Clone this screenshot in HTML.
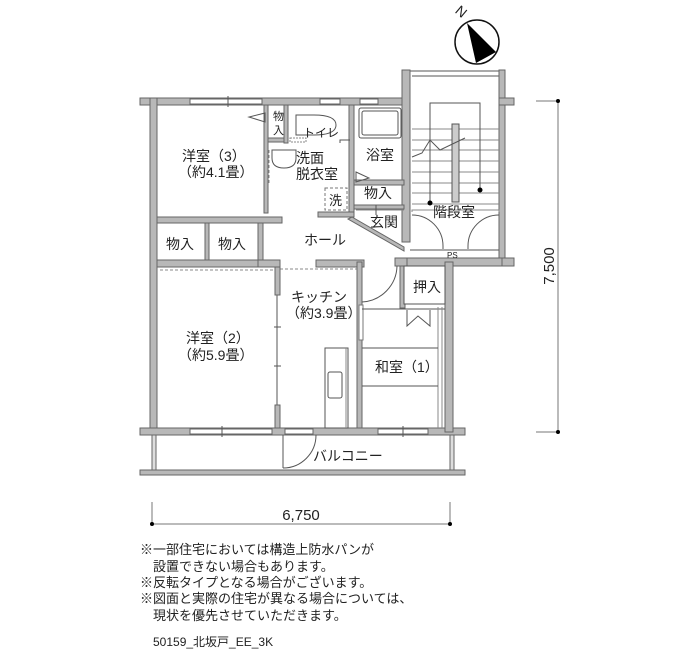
<!DOCTYPE html>
<html><head><meta charset="utf-8"><style>
html,body{margin:0;padding:0;background:#fff;}
svg{display:block;}
text{font-family:"Liberation Sans","Noto Sans CJK JP",sans-serif;fill:#222;}
.w{fill:#b8b8b8;stroke:#666;stroke-width:1;}
.l{stroke:#555;stroke-width:1;fill:none;}
.t{stroke:#888;stroke-width:1;fill:none;}
</style></head><body>
<svg width="700" height="650" viewBox="0 0 700 650" xmlns="http://www.w3.org/2000/svg">
<circle cx="477" cy="42" r="22" fill="#fff" stroke="#111" stroke-width="1.5"/>
<polygon points="467,23 496,52 476,63" fill="#000"/>
<text x="456" y="17" font-size="14" transform="rotate(40 462 12)">N</text>

<line x1="404" y1="71" x2="500" y2="71" class="l"/>
<line x1="412" y1="76" x2="500" y2="76" class="l"/>

<rect class="w" x="140" y="98" width="268" height="7"/>
<rect class="w" x="402" y="70" width="8" height="172"/>
<rect class="w" x="499" y="70" width="6" height="196"/>
<rect class="w" x="499" y="98" width="15" height="7"/>
<rect class="w" x="499" y="258" width="15" height="8"/>
<rect class="w" x="150" y="98" width="7" height="337"/>
<rect class="w" x="140" y="428" width="325" height="7"/>
<rect class="w" x="404" y="258" width="98" height="8"/>
<rect class="w" x="445" y="262" width="8" height="170"/>
<rect x="190" y="99" width="72" height="5" fill="#fff" stroke="#666"/>
<line x1="228" y1="96" x2="228" y2="107" class="l"/>
<rect x="320" y="99" width="20" height="5" fill="#fff" stroke="#666"/>
<rect x="360" y="99" width="18" height="5" fill="#fff" stroke="#666"/>
<rect x="190" y="429" width="82" height="5" fill="#fff" stroke="#666"/>
<line x1="222" y1="426" x2="222" y2="437" class="l"/>
<rect x="285" y="429" width="28" height="5" fill="#fff" stroke="#666"/>
<rect x="378" y="429" width="50" height="5" fill="#fff" stroke="#666"/>
<line x1="403" y1="426" x2="403" y2="437" class="l"/>

<rect class="w" x="264" y="105" width="4" height="108"/>
<rect class="w" x="268" y="138" width="18" height="4"/>
<rect class="w" x="284" y="105" width="4" height="38"/>
<rect class="w" x="349" y="105" width="5" height="112"/>
<rect class="w" x="354" y="180" width="50" height="5"/>
<rect class="w" x="354" y="205" width="50" height="4"/>
<rect class="w" x="318" y="212" width="36" height="5"/>
<rect class="w" x="157" y="217" width="125" height="6"/>
<rect class="w" x="205" y="223" width="4" height="42"/>
<rect class="w" x="258" y="223" width="5" height="42"/>
<rect class="w" x="157" y="260" width="120" height="7"/>
<rect class="w" x="258" y="260" width="22" height="7"/>
<rect class="w" x="316" y="260" width="48" height="7"/>
<rect class="w" x="395" y="258" width="12" height="8"/>
<line x1="160" y1="270" x2="275" y2="270" stroke="#888" stroke-dasharray="3,2"/>
<line x1="280" y1="269" x2="357" y2="269" stroke="#888" stroke-dasharray="3,2"/>
<line x1="269" y1="150" x2="269" y2="185" stroke="#888" stroke-dasharray="3,2"/>
<path d="M296 115 h18 q22 0 22 10 q0 10 -22 10 h-18 z" class="l"/>
<rect x="290" y="138" width="16" height="4" fill="#fff" stroke="#888" stroke-dasharray="2,1"/>
<path d="M340 143 v-3 h10" class="l"/>
<path d="M272 150 h24 v8 q0 10 -12 10 q-12 0 -12 -10z" class="l"/>
<rect x="359" y="108" width="42" height="30" class="l" rx="2"/>
<rect x="362" y="111" width="36" height="24" class="l" rx="2"/>
<polygon points="356,172 369,178 356,182" class="l"/>
<polygon points="265,113 249,117 265,122" class="l"/>
<rect x="325" y="188" width="22" height="22" fill="none" stroke="#777" stroke-dasharray="3,2"/>
<text x="329" y="205" font-size="13">洗</text>
<polygon points="352,217 404,247 404,251 348,219" class="w"/>
<line x1="356" y1="210" x2="404" y2="210" class="t"/>
<line x1="376" y1="205" x2="376" y2="215" class="l"/>

<g class="t">
<line x1="412" y1="129" x2="499" y2="129"/><line x1="412" y1="140" x2="499" y2="140"/>
<line x1="412" y1="150" x2="499" y2="150"/><line x1="412" y1="161" x2="499" y2="161"/>
<line x1="412" y1="172" x2="499" y2="172"/><line x1="412" y1="183" x2="499" y2="183"/>
<line x1="412" y1="193" x2="499" y2="193"/><line x1="412" y1="204" x2="499" y2="204"/>
</g>
<rect x="452" y="124" width="7" height="78" fill="#ccc" stroke="#555"/>
<polyline points="430,203 430,103 480,103 480,190" class="l"/>
<circle cx="430" cy="203" r="2.5" fill="#000"/><circle cx="480" cy="190" r="2.5" fill="#000"/>
<polyline points="412,157 422,153 430,140 440,150 465,138" class="l"/>
<path d="M412 212 v-2 h87 v2" class="t"/>
<path d="M412 215 a31 31 0 0 1 31 31 v3" class="l"/>
<path d="M499 215 a31 31 0 0 0 -31 31 v3" class="l"/>
<line x1="410" y1="250" x2="499" y2="250" class="l"/>
<text x="447" y="258" font-size="8">PS</text>

<line x1="277" y1="267" x2="277" y2="428" class="l"/>
<rect x="275" y="267" width="5" height="28" class="w"/>
<rect x="275" y="405" width="5" height="23" class="w"/>
<line x1="274" y1="327" x2="281" y2="327" class="l"/>
<line x1="274" y1="366" x2="281" y2="366" class="l"/>
<rect class="w" x="357" y="262" width="5" height="166"/>
<rect x="359" y="305" width="4" height="35" fill="#fff" stroke="#777"/>
<path d="M362 302 a37 37 0 0 0 35 -36" class="l"/>
<line x1="362" y1="309" x2="445" y2="309" class="l"/>
<rect class="w" x="400" y="266" width="5" height="42"/>
<rect x="404" y="266" width="41" height="38" fill="#fff" stroke="#555"/>
<polyline points="407,310 407,326 418,316 430,326 430,310" class="l"/>
<line x1="438" y1="307" x2="438" y2="428" class="t"/>
<line x1="442" y1="307" x2="442" y2="428" class="t"/>
<line x1="362" y1="348" x2="438" y2="348" class="l"/>
<line x1="362" y1="386" x2="438" y2="386" class="l"/>
<rect x="325" y="348" width="23" height="80" class="l"/>
<rect x="328" y="372" width="14" height="26" rx="2" class="l"/>
<line x1="346" y1="348" x2="346" y2="428" class="t"/>

<rect x="152" y="435" width="4" height="37" fill="#ddd" stroke="#666"/>
<rect x="450" y="435" width="4" height="37" fill="#ddd" stroke="#666"/>
<rect class="w" x="140" y="470" width="325" height="5"/>
<line x1="283" y1="435" x2="283" y2="468" class="l"/>
<path d="M283 468 a33 33 0 0 0 33 -33" class="l"/>

<g font-size="14">
<text x="182" y="161">洋室（3）</text>
<text x="178" y="177">（約4.1畳）</text>
<text x="273" y="120" font-size="11">物</text><text x="273" y="134" font-size="11">入</text>
<text x="303" y="137" font-size="12">トイレ</text>
<text x="296" y="163">洗面</text>
<text x="296" y="179">脱衣室</text>
<text x="366" y="160">浴室</text>
<text x="364" y="198">物入</text>
<text x="370" y="227">玄関</text>
<text x="433" y="217">階段室</text>
<text x="304" y="245">ホール</text>
<text x="166" y="249">物入</text>
<text x="218" y="249">物入</text>
<text x="291" y="302">キッチン</text>
<text x="286" y="318">（約3.9畳）</text>
<text x="186" y="343">洋室（2）</text>
<text x="178" y="360">（約5.9畳）</text>
<text x="413" y="292">押入</text>
<text x="375" y="372">和室（1）</text>
<text x="313" y="461">バルコニー</text>
</g>

<line x1="152" y1="524" x2="450" y2="524" stroke="#777"/>
<line x1="152" y1="502" x2="152" y2="524" stroke="#777"/>
<line x1="450" y1="502" x2="450" y2="524" stroke="#777"/>
<circle cx="152" cy="524" r="2" fill="#000"/><circle cx="450" cy="524" r="2" fill="#000"/>
<text x="301" y="520" font-size="15" text-anchor="middle">6,750</text>
<line x1="558" y1="101" x2="558" y2="432" stroke="#777"/>
<line x1="536" y1="101" x2="558" y2="101" stroke="#777"/>
<line x1="536" y1="432" x2="558" y2="432" stroke="#777"/>
<circle cx="558" cy="101" r="2" fill="#000"/><circle cx="558" cy="432" r="2" fill="#000"/>
<text x="0" y="0" font-size="15" text-anchor="middle" transform="translate(554 266) rotate(-90)">7,500</text>

<g font-size="13">
<text x="140" y="554">※一部住宅においては構造上防水パンが</text>
<text x="153" y="571">設置できない場合もあります。</text>
<text x="140" y="587">※反転タイプとなる場合がございます。</text>
<text x="140" y="603">※図面と実際の住宅が異なる場合については、</text>
<text x="153" y="620">現状を優先させていただきます。</text>
<text x="153" y="646" font-size="12">50159_北坂戸_EE_3K</text>
</g>
</svg>
</body></html>
